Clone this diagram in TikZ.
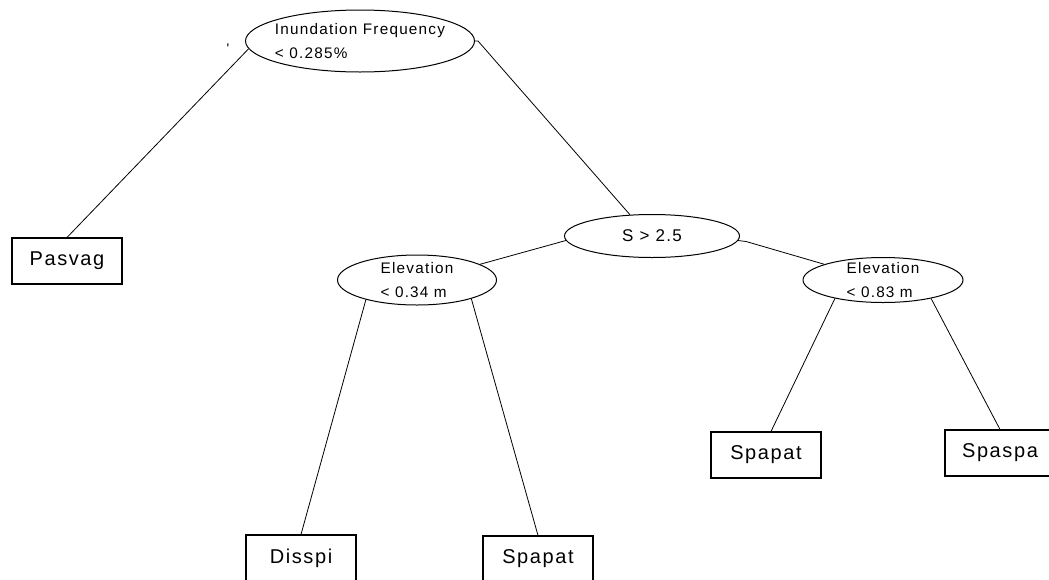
\documentclass[tikz,border=0pt]{standalone}
\usepackage{fontspec}
\setmainfont{Liberation Sans}[LetterSpace=8]
\usetikzlibrary{shapes.geometric}

\tikzset{
  leaf/.style = {draw, rectangle, line width=1.1pt, minimum width=110,
    minimum height=46, inner sep=0pt, font=\fontsize{20}{24}\selectfont},
  test/.style = {draw, ellipse, inner sep=0pt, line width=1pt},
  testtext/.style = {align=left, font=\fontsize{15.3}{24}\selectfont}
}

\begin{document}
\begin{tikzpicture}[x=1pt, y=-1pt, line width=0.8pt]
  \useasboundingbox (0,0) rectangle (1049,579);
  % splits
  \node[test, minimum width=229, minimum height=62,
    label={[testtext]center:{Inundation Frequency\\< 0.285\%}}] (root) at (360,41) {};
  \node[test, minimum width=175, minimum height=43,
    font=\fontsize{17}{20}\selectfont] (s) at (652,236) {S > 2.5};
  \node[test, minimum width=159, minimum height=50,
    label={[testtext]center:{Elevation\\< 0.34 m}}] (elevlow) at (417,280) {};
  \node[test, minimum width=160, minimum height=45,
    label={[testtext]center:{Elevation\\< 0.83 m}}] (elevhigh) at (883,280) {};
  \node[font=\fontsize{14}{14}\selectfont, inner sep=0pt] (tick) at (228,49) {\textquotesingle};
  % leaves
  \node[leaf] (pasvag) at (67,261) {Pasvag};
  \node[leaf] (disspi) at (301,558) {Disspi};
  \node[leaf] (spapatlow) at (538,559) {Spapat};
  \node[leaf] (spapathigh) at (766,455) {Spapat};
  \node[leaf] (spaspa) at (1000,453) {Spaspa};
  % branches
  \draw (root.184) -- (pasvag.north);
  \draw (root.east) -- ++(3,0) -- (s.136);
  \draw (s.183) -- (elevlow.14);
  \draw (s.357) -- ++(8,1) -- (elevhigh.165);
  \draw (elevlow.201) -- (disspi.north);
  \draw (elevlow.341) -- (spapatlow.north);
  \draw (elevhigh.201) -- (spapathigh.78);
  \draw (elevhigh.339) -- (spaspa.north);
\end{tikzpicture}
\end{document}
